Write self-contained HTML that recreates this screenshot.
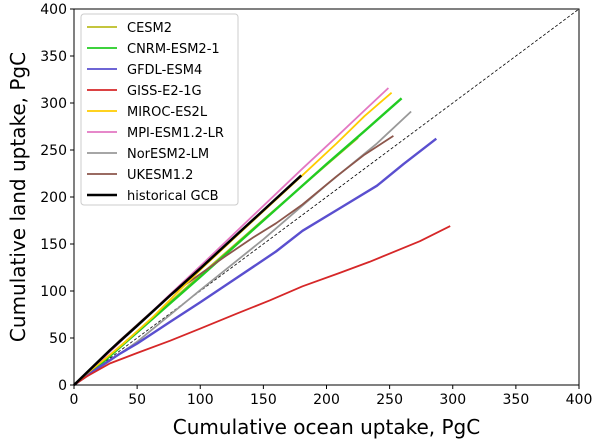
<!DOCTYPE html>
<html><head><meta charset="utf-8"><style>
body{margin:0;background:#fff;font-family:"Liberation Sans","DejaVu Sans",sans-serif}
svg text{font-family:"DejaVu Sans","Liberation Sans",sans-serif}
</style></head><body>
<svg id="chart" width="600" height="443" viewBox="0 0 600 443" xmlns="http://www.w3.org/2000/svg">
<g id="plot"></g>
<g id="axes"></g>
<g id="legend"></g>
</svg>
<script>
const seriesNames=["CESM2","CNRM-ESM2-1","GFDL-ESM4","GISS-E2-1G","MIROC-ES2L","MPI-ESM1.2-LR","NorESM2-LM","UKESM1.2","historical GCB"];
const seriesColors=["#bcbd22","#22cc22","#5a4fcf","#d62728","#ffcc00","#e377c2","#999999","#8c564b","#000000"];
const cesmX=[0,20,50,100,150,200,225];
const cesmY=[0,22,57,117,176,234,263];
const cnrmX=[0,20,50,100,150,200,230,259.5];
const cnrmY=[0,21,56,115,175,235,270,305];
const gfdlX=[0,10,20,36,50,76,100,129,160,181,213,240,261,287];
const gfdlY=[0,10,19,33,44,67,88,114,142,164,190,212,235,262];
const gissX=[0,10,28.5,50,76,100,129,155,181,210,234,274,298];
const gissY=[0,9,23,34,47,60,76,90,105,119,131,153,169];
const mirocX=[0,10,24,40,63,80,102,130,155,180,208,230,251.6];
const mirocY=[0,12,27,45,73,96,125,160,191,222,257,286,311];
const mpiX=[0,10,25,50,75,102,130,155,180,208,230,249];
const mpiY=[0,13,31,63,95,129,165,197,229,264,292,316];
const norX=[0,20,50,100,150,200,240,267];
const norY=[0,18,46,101,155,213,257,291];
const ukX=[0,10,20,36,55,76,102,120,142,160,181,208,230,253];
const ukY=[0,13,26,47,70,95,120,137,157,172,192,222,245,265];
const gcbX=[0,10,28.5,50,76,100,129,155,180];
const gcbY=[0,13,37,63,95,124,160,192,223];
const seriesX=[cesmX,cnrmX,gfdlX,gissX,mirocX,mpiX,norX,ukX,gcbX];
const seriesY=[cesmY,cnrmY,gfdlY,gissY,mirocY,mpiY,norY,ukY,gcbY];
const xTicks=[0,50,100,150,200,250,300,350,400];
const yTicks=[0,50,100,150,200,250,300,350,400];

const L=74,R=579,T=9,B=385;
const sx=v=>L+(v/400)*(R-L);
const sy=v=>B-(v/400)*(B-T);
const NS="http://www.w3.org/2000/svg";
function mk(tag,attrs,parent){const e=document.createElementNS(NS,tag);for(const k in attrs)e.setAttribute(k,attrs[k]);parent.appendChild(e);return e;}
const plot=document.getElementById('plot'),axes=document.getElementById('axes'),leg=document.getElementById('legend');

const diag=mk('line',{x1:sx(0),y1:sy(0),x2:sx(400),y2:sy(400),stroke:'#000','stroke-width':0.8,'stroke-dasharray':'3,2'},plot);


const order=[6,0,1,2,3,7,4,5,8];
order.forEach(i=>{
  const d=seriesX[i].map((x,j)=>(j?'L':'M')+sx(x).toFixed(1)+','+sy(seriesY[i][j]).toFixed(1)).join(' ');
  const p=mk('path',{d:d,fill:'none',stroke:seriesColors[i],'stroke-width':i==8?2.5:(i==2||i==1?2.4:1.8),'stroke-linejoin':'round'},plot);
  
  
});
const frame=mk('rect',{x:L,y:T,width:R-L,height:B-T,fill:'none',stroke:'#000','stroke-width':1},axes);


xTicks.forEach(v=>{
  mk('line',{x1:sx(v),y1:B,x2:sx(v),y2:B+4,stroke:'#000'},axes);
  const t=mk('text',{x:sx(v),y:B+19,'font-size':14,'text-anchor':'middle'},axes);t.textContent=v;
  
  
});
yTicks.forEach(v=>{
  mk('line',{x1:L-4,y1:sy(v),x2:L,y2:sy(v),stroke:'#000'},axes);
  const t=mk('text',{x:L-7,y:sy(v)+5,'font-size':14,'text-anchor':'end'},axes);t.textContent=v;
  
  
});
const xt=mk('text',{x:(L+R)/2,y:434,'font-size':20,'text-anchor':'middle'},axes);xt.textContent='Cumulative ocean uptake, PgC';


const yt=mk('text',{x:0,y:0,'font-size':20,'text-anchor':'middle',transform:`translate(25,${(T+B)/2}) rotate(-90)`},axes);yt.textContent='Cumulative land uptake, PgC';



const lb=mk('rect',{x:81,y:14,width:157,height:191,rx:3,fill:'#fff','fill-opacity':0.85,stroke:'#ccc'},leg);


seriesNames.forEach((n,i)=>{
  const y=27+i*21;
  const g=mk('g',{},leg);
  
  
  mk('line',{x1:87,y1:y,x2:117,y2:y,stroke:seriesColors[i],'stroke-width':i==8?2.5:1.8},g);
  const t=mk('text',{x:127,y:y+5,'font-size':13},g);t.textContent=n;
});
</script>
</body></html>
